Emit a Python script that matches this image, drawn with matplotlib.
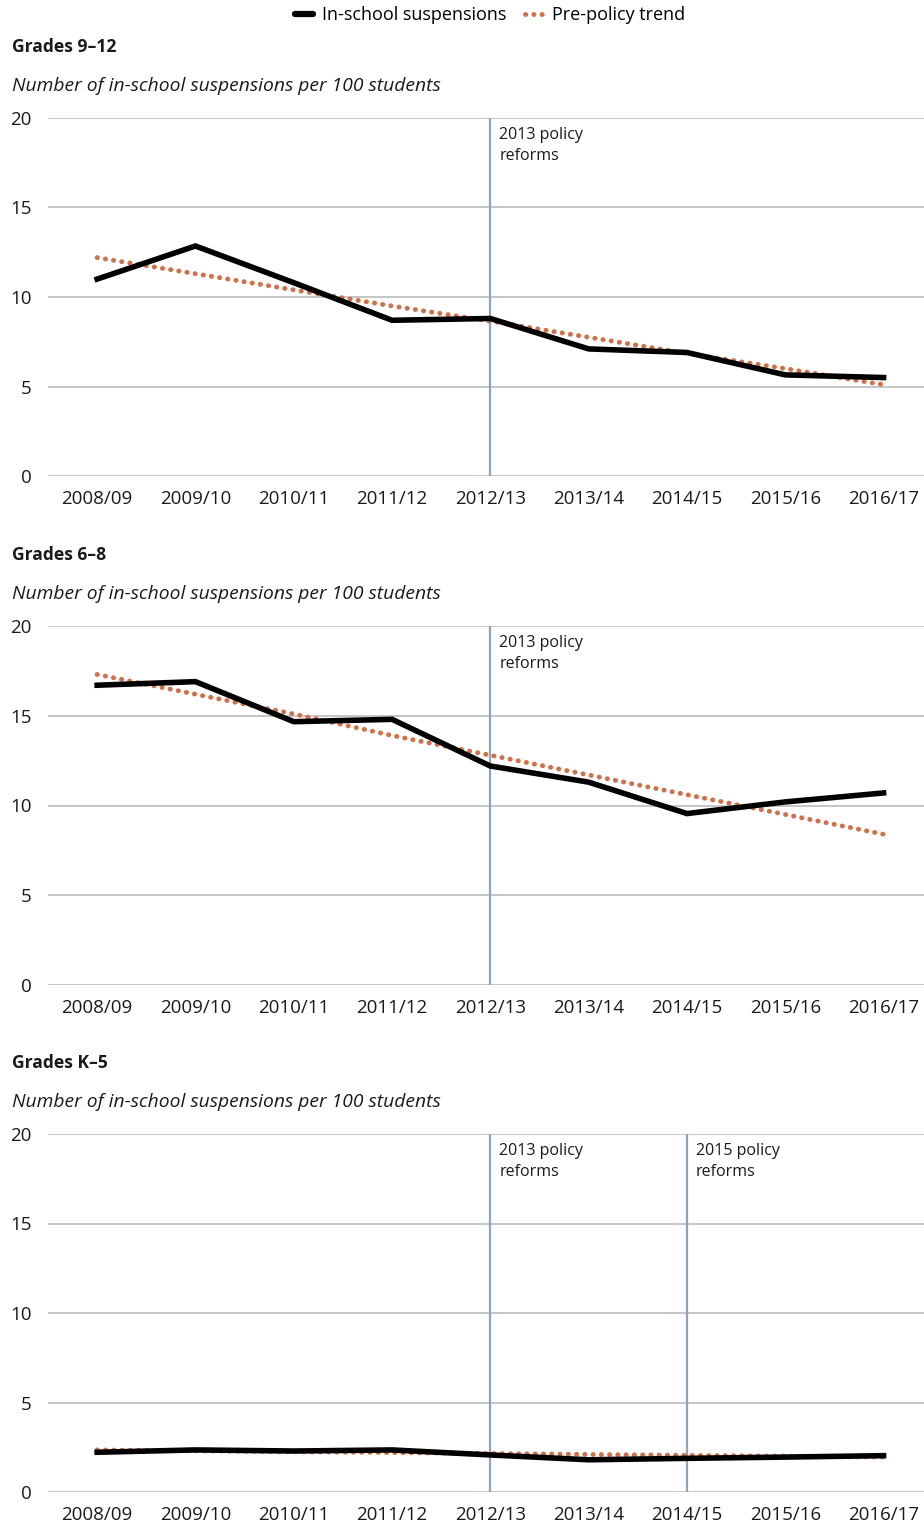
import matplotlib
matplotlib.use("Agg")
import matplotlib.pyplot as plt
from matplotlib.lines import Line2D

plt.rcParams['font.family'] = ['Open Sans', 'DejaVu Sans']

years = ["2008/09", "2009/10", "2010/11", "2011/12", "2012/13",
         "2013/14", "2014/15", "2015/16", "2016/17"]

g912_actual = [11.0, 12.85, 10.8, 8.7, 8.8, 7.1, 6.9, 5.65, 5.5]
g912_trend = [12.2, 11.3, 10.4, 9.5, 8.65, 7.75, 6.85, 6.0, 5.1]

g68_actual = [16.7, 16.9, 14.67, 14.8, 12.2, 11.3, 9.55, 10.2, 10.7]
g68_trend = [17.3, 16.2, 15.1, 13.9, 12.8, 11.7, 10.6, 9.5, 8.4]

gk5_actual = [2.22, 2.35, 2.29, 2.35, 2.07, 1.8, 1.88, 1.95, 2.03]
gk5_trend = [2.35, 2.3, 2.25, 2.2, 2.15, 2.1, 2.05, 2.0, 1.95]

panel_titles = ["Grades 9\u201312", "Grades 6\u20138", "Grades K\u20135"]
subtitle = "Number of in-school suspensions per 100 students"
policy_lines = [[("2012/13", "2013 policy\nreforms")],
                [("2012/13", "2013 policy\nreforms")],
                [("2012/13", "2013 policy\nreforms"), ("2014/15", "2015 policy\nreforms")]]
yticks = [0, 5, 10, 15, 20]

W, H = 924, 1527
fig = plt.figure(figsize=(W / 100, H / 100), dpi=100)

panels = [(g912_actual, g912_trend), (g68_actual, g68_trend), (gk5_actual, gk5_trend)]
tops = [118, 626, 1134]
bottoms = [476, 985, 1492]
left_px = 48

BLACK = "#000000"
ORANGE = "#d0704a"
GRID = "#c0c0c0"
VLINE = "#8fa2bf"
DOT = (0, (0.05, 1.65))

x = list(range(len(years)))
for i, ((act, tr), top, bot) in enumerate(zip(panels, tops, bottoms)):
    ax = fig.add_axes([left_px / W, 1 - bot / H, (W - left_px) / W, (bot - top) / H])
    ax.set_xlim(-0.5, (W - 98) / 98.2)
    ax.set_ylim(0, 20)
    ax.set_yticks(yticks)
    ax.set_xticks(x)
    ax.set_xticklabels(years)
    for s in ax.spines.values():
        s.set_visible(False)
    ax.tick_params(axis='both', length=0, labelsize=13.5, colors="#1a1a1a")
    ax.tick_params(axis='y', pad=12)
    ax.tick_params(axis='x', pad=10)
    for yv in yticks:
        ax.axhline(yv, color=GRID, lw=1.3, zorder=0)
    for (yr, label) in policy_lines[i]:
        xi = years.index(yr)
        ax.axvline(xi, color=VLINE, lw=1.6, zorder=1)
        ax.text(xi + 0.09, 19.5, label, fontsize=11.5, va='top', ha='left',
                color="#1a1a1a", linespacing=1.4)
    ax.plot(x, tr, color=ORANGE, lw=3.5, linestyle=DOT,
            dash_capstyle='round', zorder=3)
    ax.plot(x, act, color=BLACK, lw=4.0, solid_joinstyle='miter', zorder=4)

    fig.text(12 / W, 1 - (top - 71) / H, panel_titles[i], fontsize=12.6,
             fontweight='bold', va='center', ha='left', color="#1a1a1a")
    fig.text(12 / W, 1 - (top - 32) / H, subtitle, fontsize=13.9,
             style='italic', va='center', ha='left', color="#1a1a1a")

handles = [Line2D([], [], color=BLACK, lw=4.5, solid_capstyle='round'),
           Line2D([], [], color=ORANGE, lw=3.5, linestyle=DOT,
                  dash_capstyle='round')]
fig.legend(handles, ["In-school suspensions", "Pre-policy trend"],
           loc='center', bbox_to_anchor=(490 / W, 1 - 15 / H), ncol=2,
           frameon=False, fontsize=13, handlelength=1.0, handletextpad=0.5,
           columnspacing=1.0)

fig.savefig("out.png", dpi=100)
